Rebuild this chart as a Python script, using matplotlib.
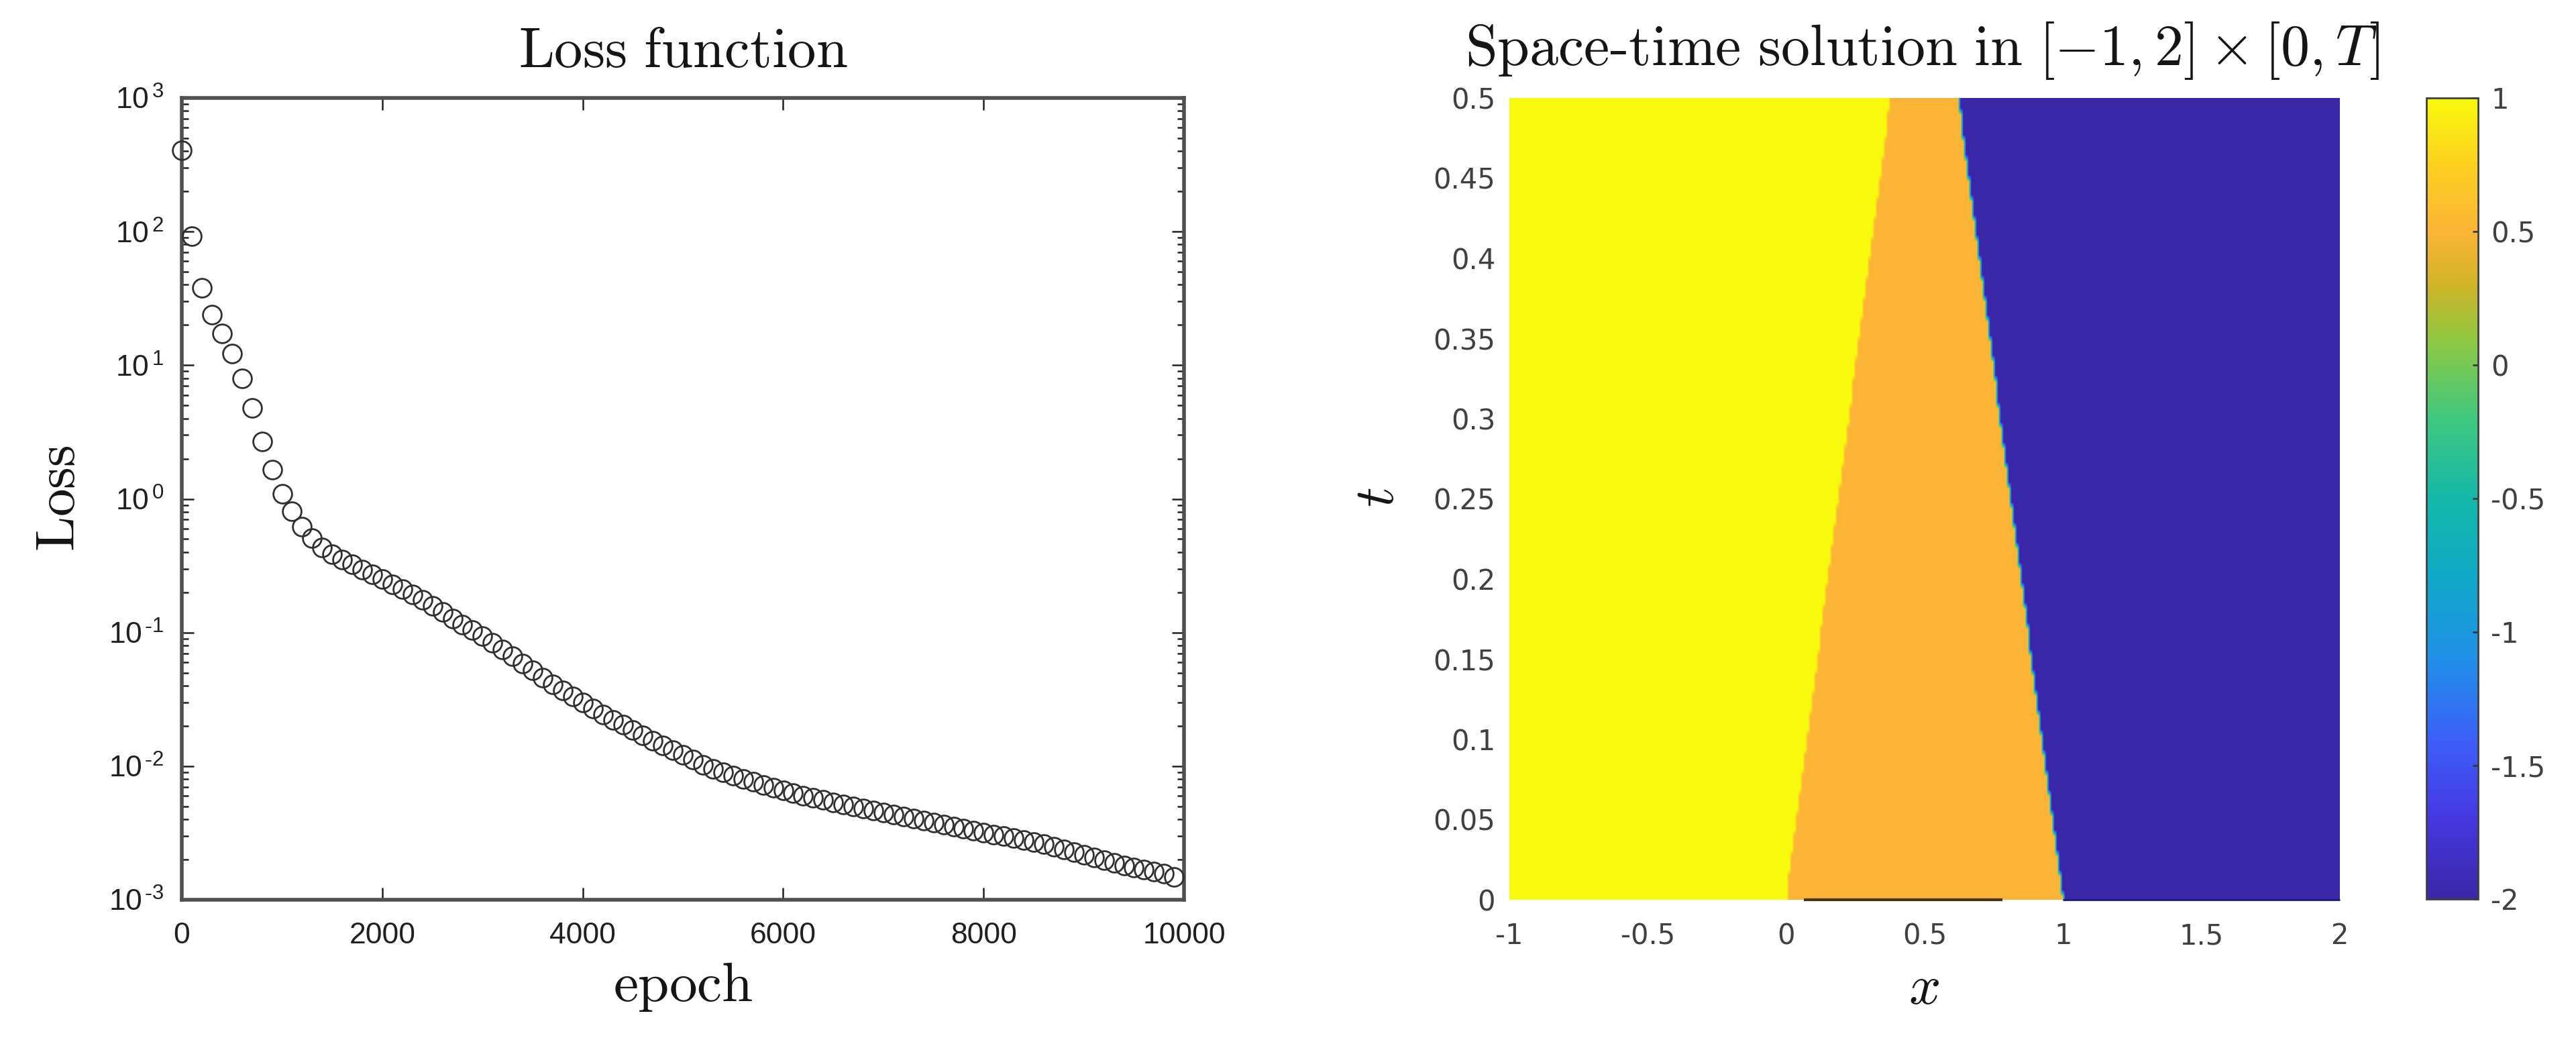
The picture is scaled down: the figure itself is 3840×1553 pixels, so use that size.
import numpy as np
import matplotlib
matplotlib.use("Agg")
import matplotlib.pyplot as plt
from matplotlib.colors import LinearSegmentedColormap

plt.rcParams['font.family'] = ['DejaVu Sans']
plt.rcParams['mathtext.fontset'] = 'cm'

W, H = 3840, 1553

# loss curve, log10 of the value at every stored epoch
epochs = np.arange(1, 10000, 100)
log_loss = [
    2.608, 1.965, 1.578, 1.377, 1.236, 1.085, 0.899, 0.678, 0.427, 0.216,
    0.040, -0.095, -0.206, -0.296, -0.362, -0.412, -0.452, -0.492, -0.528, -0.563,
    -0.598, -0.638, -0.673, -0.714, -0.754, -0.799, -0.844, -0.894, -0.940, -0.980,
    -1.025, -1.075, -1.126, -1.176, -1.231, -1.281, -1.337, -1.387, -1.432, -1.477,
    -1.523, -1.568, -1.613, -1.653, -1.688, -1.729, -1.769, -1.809, -1.844, -1.879,
    -1.915, -1.950, -1.990, -2.020, -2.045, -2.070, -2.095, -2.116, -2.141, -2.161,
    -2.181, -2.201, -2.221, -2.236, -2.251, -2.271, -2.286, -2.302, -2.317, -2.332,
    -2.347, -2.362, -2.377, -2.392, -2.407, -2.422, -2.437, -2.452, -2.467, -2.482,
    -2.497, -2.513, -2.523, -2.538, -2.553, -2.568, -2.583, -2.603, -2.623, -2.643,
    -2.663, -2.683, -2.704, -2.724, -2.744, -2.759, -2.774, -2.789, -2.804, -2.829,
]
loss_xticks = [0, 2000, 4000, 6000, 8000, 10000]
loss_yticks = [1e-3, 1e-2, 1e-1, 1e0, 1e1, 1e2, 1e3]
loss_ylabels = [r'$\mathregular{10^{\,\text{-}3}}$', r'$\mathregular{10^{\,\text{-}2}}$',
                r'$\mathregular{10^{\,\text{-}1}}$', r'$\mathregular{10^{\,0}}$',
                r'$\mathregular{10^{\,1}}$', r'$\mathregular{10^{\,2}}$', r'$\mathregular{10^{\,3}}$']

# space-time solution: the two fronts and the three plateau values
front_t = [0.0, 0.1, 0.2, 0.3, 0.4, 0.5]
front_left = [0.0, 0.075, 0.15, 0.225, 0.30, 0.375]
front_right = [1.0, 0.925, 0.85, 0.775, 0.70, 0.625]
u_left, u_mid, u_right = 1.0, 0.5, -2.0
dark_edge_x = [0.065, 0.78]
navy_edge_x = [1.0, 2.0]

x_ticks = [-1, -0.5, 0, 0.5, 1, 1.5, 2]
x_labels = ['-1', '-0.5', '0', '0.5', '1', '1.5', '2']
t_ticks = [0, 0.05, 0.1, 0.15, 0.2, 0.25, 0.3, 0.35, 0.4, 0.45, 0.5]
t_labels = ['0', '0.05', '0.1', '0.15', '0.2', '0.25', '0.3', '0.35', '0.4', '0.45', '0.5']
cb_ticks = [-2, -1.5, -1, -0.5, 0, 0.5, 1]
cb_labels = ['-2', '-1.5', '-1', '-0.5', '0', '0.5', '1']

# colours, by data value
cmap_values = [-2.0, -1.7, -1.4, -1.1, -0.8, -0.5, -0.2, 0.1, 0.3, 0.5, 0.75, 1.0]
cmap_colors = ['#3a27a8', '#4638e0', '#3c60f8', '#2090e8', '#10a8c8', '#14b8a8',
               '#40c880', '#90c840', '#d0b428', '#fbb436', '#fdd020', '#f8fa0d']
parula = LinearSegmentedColormap.from_list(
    'parula', [((v + 2) / 3, c) for v, c in zip(cmap_values, cmap_colors)], N=512)

fig = plt.figure(figsize=(W / 100, H / 100), dpi=100, facecolor='white')


def px_axes(left, top, right, bottom):
    return fig.add_axes([left / W, 1 - bottom / H, (right - left) / W, (bottom - top) / H])


# ---- left: loss ----
ax1 = px_axes(271, 146, 1765, 1341)
ax1.semilogy(epochs, 10.0 ** np.array(log_loss), linestyle='none', marker='o', ms=20,
             mfc='none', mec='#303030', mew=2.0, clip_on=False, zorder=3)
ax1.set_xlim(0, 10000)
ax1.set_ylim(1e-3, 1e3)
ax1.set_xticks(loss_xticks)
ax1.set_xticklabels(loss_xticks)
ax1.set_yticks(loss_yticks)
ax1.set_yticklabels(loss_ylabels)
ax1.yaxis.set_minor_locator(matplotlib.ticker.LogLocator(base=10, subs=range(2, 10), numticks=20))
ax1.yaxis.set_minor_formatter(matplotlib.ticker.NullFormatter())
ax1.tick_params(which='major', direction='in', top=True, right=True, length=13, width=1.8,
                color='#202020', labelsize=32, labelcolor='#202020')
ax1.tick_params(which='minor', direction='in', right=True, length=7, width=1.8, color='#202020')
ax1.tick_params(axis='x', pad=24)
ax1.tick_params(axis='y', pad=19)
for lab in ax1.get_xticklabels() + ax1.get_yticklabels():
    lab.set_family('Liberation Sans')
for sp in ax1.spines.values():
    sp.set_linewidth(4)
    sp.set_color('#505050')
fig.text(1018 / W, 1 - 100 / H, r'$\mathrm{Loss\ function}$', fontsize=61, ha='center', va='baseline', color='#151515')
fig.text(1018 / W, 1 - 1492 / H, r'$\mathrm{epoch}$', fontsize=60, ha='center', va='baseline', color='#151515')
fig.text(128 / W, 1 - 743 / H, r'$\mathrm{Loss}$', fontsize=60, rotation=90, ha='right', va='center',
         color='#151515')

# ---- right: space-time field ----
ax2 = px_axes(2250, 146, 3488, 1341)
xg = np.linspace(-1, 2, 310)
tg = np.linspace(0, 0.5, 120)
X, T = np.meshgrid(xg, tg)
left_edge = np.interp(T, front_t, front_left)
right_edge = np.interp(T, front_t, front_right)
U = np.where(X < left_edge, u_left, np.where(X < right_edge, u_mid, u_right))
im = ax2.imshow(U, origin='lower', extent=[-1, 2, 0, 0.5], aspect='auto', cmap=parula,
                vmin=-2, vmax=1, interpolation='bilinear')
ax2.plot(dark_edge_x, [0, 0], color='#4a3410', lw=3, clip_on=False, solid_capstyle='butt')
ax2.plot(navy_edge_x, [0, 0], color='#1c1690', lw=2, clip_on=False, solid_capstyle='butt')
ax2.set_xticks(x_ticks)
ax2.set_xticklabels(x_labels)
ax2.set_yticks(t_ticks)
ax2.set_yticklabels(t_labels)
ax2.tick_params(length=0, labelsize=30, labelcolor='#404040')
ax2.tick_params(axis='x', pad=24)
ax2.tick_params(axis='y', pad=15)
for sp in ax2.spines.values():
    sp.set_visible(False)
fig.text(2866 / W, 1 - 97 / H, r'$\mathrm{Space\text{-}time\ solution\ in\ }[-1,2]\times[0,T]$',
         fontsize=62, ha='center', va='baseline', color='#151515')
fig.text(2868 / W, 1 - 1496 / H, r'$x$', fontsize=60, ha='center', va='baseline', color='#151515')
fig.text(2094 / W, 1 - 741 / H, r'$t$', fontsize=60, rotation=90, ha='right', va='center', color='#151515')

# ---- colorbar ----
cax = px_axes(3617, 146, 3694, 1340)
cb = fig.colorbar(im, cax=cax)
cb.set_ticks(cb_ticks)
cb.set_ticklabels(cb_labels)
cax.tick_params(direction='in', length=6, width=1.8, color='#303030', labelsize=30,
                labelcolor='#404040', pad=14)
cb.outline.set_edgecolor('#404040')
cb.outline.set_linewidth(2)

fig.savefig('out.png', dpi=100)
